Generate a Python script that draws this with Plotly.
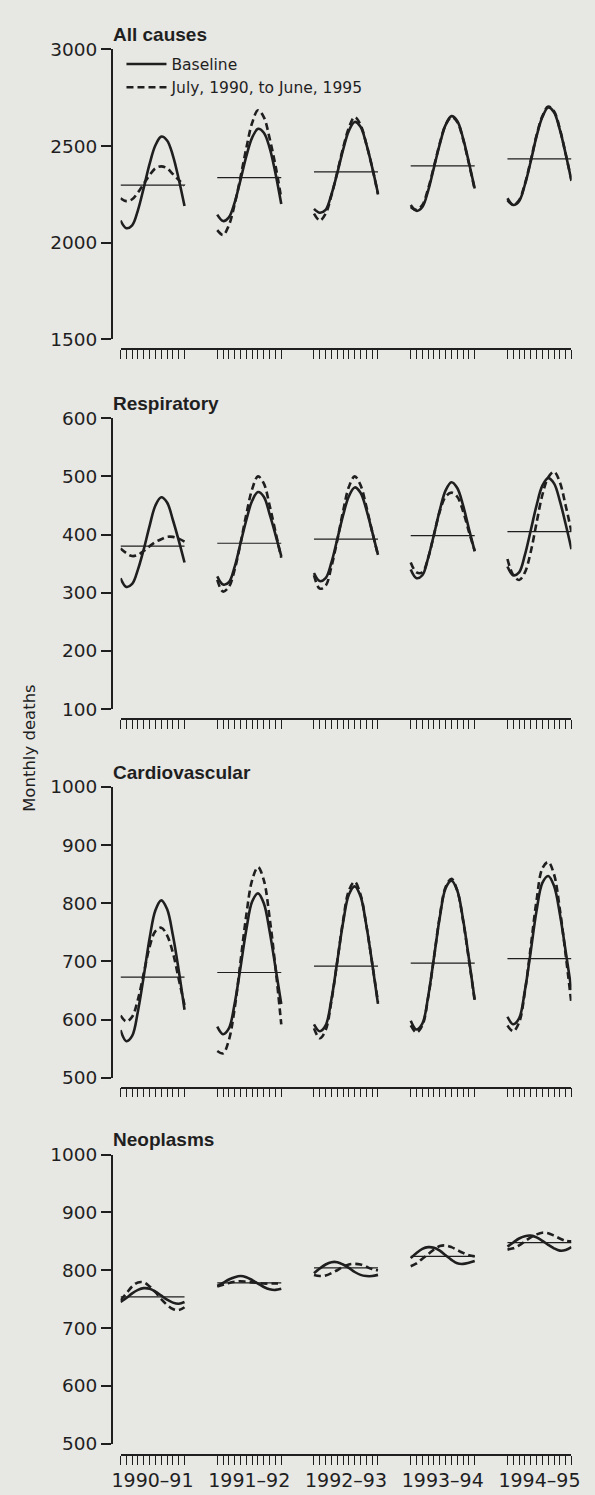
import plotly.graph_objects as go

# ---------------- data ----------------
MONTHS = ["Jul", "Aug", "Sep", "Oct", "Nov", "Dec", "Jan", "Feb", "Mar", "Apr", "May", "Jun"]
YEAR_LABELS = ["1990–91", "1991–92", "1992–93", "1993–94", "1994–95"]
PANEL_TITLES = ["All causes", "Respiratory", "Cardiovascular", "Neoplasms"]

all_base = [
    [2115, 2075, 2090, 2169, 2285, 2408, 2504, 2549, 2529, 2451, 2330, 2190],
    [2145, 2112, 2131, 2209, 2325, 2448, 2544, 2589, 2569, 2491, 2360, 2200],
    [2175, 2155, 2170, 2250, 2360, 2480, 2580, 2625, 2600, 2510, 2390, 2255],
    [2195, 2165, 2185, 2270, 2390, 2510, 2610, 2655, 2630, 2540, 2415, 2280],
    [2230, 2195, 2215, 2300, 2420, 2550, 2650, 2700, 2675, 2585, 2460, 2320],
]
all_obs = [
    [2230, 2215, 2225, 2260, 2305, 2350, 2385, 2395, 2385, 2355, 2325, 2295],
    [2065, 2040, 2090, 2200, 2340, 2490, 2620, 2685, 2650, 2540, 2400, 2230],
    [2150, 2115, 2150, 2245, 2365, 2490, 2595, 2650, 2610, 2510, 2390, 2250],
    [2185, 2170, 2195, 2280, 2395, 2515, 2610, 2650, 2625, 2535, 2410, 2275],
    [2220, 2195, 2220, 2305, 2425, 2555, 2655, 2705, 2680, 2590, 2460, 2325],
]
all_mean = [2298, 2337, 2367, 2398, 2434]

resp_base = [
    [325, 310, 315, 340, 375, 415, 450, 464, 455, 425, 390, 352],
    [328, 314, 318, 345, 385, 425, 458, 473, 465, 435, 400, 363],
    [334, 320, 325, 352, 392, 433, 466, 481, 472, 443, 405, 365],
    [340, 325, 330, 360, 400, 442, 476, 490, 480, 450, 410, 371],
    [345, 330, 335, 365, 407, 450, 484, 497, 488, 458, 418, 375],
]
resp_obs = [
    [376, 368, 363, 365, 372, 380, 387, 392, 396, 396, 393, 388],
    [322, 302, 310, 340, 385, 435, 478, 500, 488, 450, 405, 360],
    [330, 307, 312, 345, 390, 440, 482, 500, 485, 448, 405, 365],
    [352, 335, 335, 360, 400, 440, 465, 472, 465, 440, 405, 372],
    [358, 330, 322, 335, 370, 420, 468, 498, 508, 490, 450, 405],
]
resp_mean = [380, 385, 392, 398, 405]

card_base = [
    [582, 563, 572, 615, 675, 740, 788, 805, 790, 745, 685, 617],
    [588, 575, 585, 628, 690, 755, 803, 817, 800, 752, 690, 627],
    [592, 580, 590, 635, 700, 767, 815, 829, 812, 762, 697, 627],
    [598, 583, 593, 640, 707, 776, 826, 839, 822, 772, 705, 634],
    [605, 592, 602, 650, 717, 787, 835, 847, 830, 782, 718, 651],
]
card_obs = [
    [607, 597, 605, 635, 680, 725, 752, 758, 745, 715, 670, 625],
    [546, 542, 565, 620, 700, 780, 840, 862, 840, 775, 690, 592],
    [585, 568, 582, 632, 700, 770, 822, 837, 815, 762, 697, 630],
    [590, 578, 590, 638, 707, 778, 828, 842, 822, 770, 703, 632],
    [590, 580, 595, 648, 725, 805, 860, 871, 850, 790, 712, 627],
]
card_mean = [673, 681, 692, 697, 705]

neo_base = [
    [745, 752, 760, 766, 769, 768, 763, 756, 749, 744, 742, 745],
    [773, 778, 784, 788, 790, 788, 783, 777, 771, 767, 766, 768],
    [795, 803, 810, 814, 814, 810, 804, 797, 792, 790, 790, 792],
    [821, 830, 837, 840, 839, 834, 826, 818, 812, 811, 813, 816],
    [841, 848, 855, 859, 860, 857, 851, 844, 838, 834, 835, 840],
]
neo_obs = [
    [748, 760, 772, 779, 779, 772, 762, 750, 740, 733, 731, 736],
    [772, 775, 778, 780, 781, 780, 779, 778, 777, 777, 777, 777],
    [792, 790, 791, 795, 800, 806, 810, 811, 810, 806, 802, 800],
    [807, 812, 820, 828, 836, 842, 843, 840, 835, 830, 826, 824],
    [836, 838, 843, 850, 857, 862, 865, 864, 860, 855, 851, 850],
]
neo_mean = [754, 778, 804, 824, 848]

y_ranges = [[1500, 3000], [100, 600], [500, 1000], [500, 1000]]
y_ticks = [
    [1500, 2000, 2500, 3000],
    [100, 200, 300, 400, 500, 600],
    [500, 600, 700, 800, 900, 1000],
    [500, 600, 700, 800, 900, 1000],
]

BASES = [all_base, resp_base, card_base, neo_base]
OBS = [all_obs, resp_obs, card_obs, neo_obs]
MEANS = [all_mean, resp_mean, card_mean, neo_mean]

# ---------------- layout constants ----------------
W, H = 595, 1495
YEAR_STEP = 16.625          # spacing between year groups, in month units
PANEL_TOP = [39, 413, 787, 1160]
PANEL_BOT = [333, 708, 1082, 1453]
XAXIS_Y = [343, 718, 1092, 1465]
X_LEFT, X_RIGHT = 115, 580
YAXIS_X = 106
BG = "#e7e7e4"
INK = "#1f1f1f"

def py(px):
    return 1 - px / H

def px_x(px):
    return px / W

month_pos = [i * YEAR_STEP + m for i in range(len(YEAR_LABELS)) for m in range(len(MONTHS))]
year_centers = [i * YEAR_STEP + (len(MONTHS) - 1) / 2 for i in range(len(YEAR_LABELS))]

fig = go.Figure()

for p in range(4):
    xa = "x" if p == 0 else f"x{p+1}"
    ya = "y" if p == 0 else f"y{p+1}"
    for i in range(len(YEAR_LABELS)):
        xs = [i * YEAR_STEP + m for m in range(len(MONTHS))]
        # mean line
        fig.add_trace(go.Scatter(
            x=[xs[0], xs[-1]], y=[MEANS[p][i], MEANS[p][i]], mode="lines",
            line=dict(color=INK, width=1.2), xaxis=xa, yaxis=ya,
            showlegend=False, hoverinfo="skip"))
        # observed (dashed)
        fig.add_trace(go.Scatter(
            x=xs, y=OBS[p][i], mode="lines",
            line=dict(color=INK, width=2.6, dash="7px,4px", shape="spline", smoothing=1.0),
            xaxis=xa, yaxis=ya, name="July, 1990, to June, 1995",
            legendrank=2, showlegend=(p == 0 and i == 0)))
        # baseline (solid)
        fig.add_trace(go.Scatter(
            x=xs, y=BASES[p][i], mode="lines",
            line=dict(color=INK, width=2.6, shape="spline", smoothing=1.0),
            xaxis=xa, yaxis=ya, name="Baseline",
            legendrank=1, showlegend=(p == 0 and i == 0)))

layout = dict(
    width=W, height=H,
    margin=dict(l=0, r=0, t=0, b=0),
    paper_bgcolor=BG, plot_bgcolor=BG,
    font=dict(family="DejaVu Sans", color=INK, size=18),
    legend=dict(x=px_x(116), y=py(37), xanchor="left", yanchor="top",
                bgcolor="rgba(0,0,0,0)", font=dict(family="DejaVu Sans", size=15.5, color=INK),
                tracegroupgap=0, itemwidth=40),
)

for p in range(4):
    xk = "xaxis" if p == 0 else f"xaxis{p+1}"
    yk = "yaxis" if p == 0 else f"yaxis{p+1}"
    last = (p == 3)
    layout[xk] = dict(
        domain=[px_x(X_LEFT), px_x(X_RIGHT)],
        range=[0, (len(YEAR_LABELS) - 1) * YEAR_STEP + len(MONTHS) - 1],
        anchor="free", position=py(XAXIS_Y[p]),
        showline=True, linecolor=INK, linewidth=1.5,
        showgrid=False, zeroline=False,
        tickmode="array", tickvals=year_centers,
        ticktext=YEAR_LABELS if last else [""] * len(YEAR_LABELS),
        showticklabels=last,
        ticks="outside", ticklen=8, tickcolor="rgba(0,0,0,0)",
        tickfont=dict(family="DejaVu Sans", size=19, color=INK),
        minor=dict(tickmode="array", tickvals=month_pos, ticks="outside",
                   ticklen=9, tickwidth=1, tickcolor=INK, showgrid=False),
        fixedrange=True,
    )
    layout[yk] = dict(
        domain=[py(PANEL_BOT[p]), py(PANEL_TOP[p])],
        range=y_ranges[p],
        anchor="free", position=px_x(YAXIS_X),
        showline=True, linecolor=INK, linewidth=1.5,
        showgrid=False, zeroline=False,
        tickmode="array", tickvals=y_ticks[p],
        ticks="outside", ticklen=10, tickwidth=1.5, tickcolor=INK,
        tickfont=dict(family="DejaVu Sans", size=18.5, color=INK),
        fixedrange=True,
    )

annotations = []
for p in range(4):
    annotations.append(dict(
        text=PANEL_TITLES[p], xref="paper", yref="paper",
        x=px_x(105), y=py(PANEL_TOP[p] - 15), xanchor="left", yanchor="middle",
        showarrow=False,
        font=dict(family="Liberation Sans", size=19, color=INK, weight="bold")))
annotations.append(dict(
    text="Monthly deaths", xref="paper", yref="paper",
    x=px_x(21), y=py(747), xanchor="center", yanchor="middle",
    textangle=-90, showarrow=False,
    font=dict(family="DejaVu Sans", size=16.5, color=INK)))
layout["annotations"] = annotations

fig.update_layout(**layout)
fig.write_html("out.html")
